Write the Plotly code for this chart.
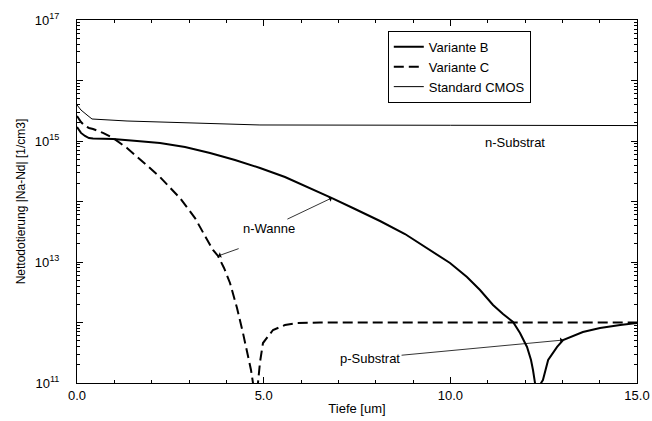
import plotly.graph_objects as go

# Variante B (thick solid)
b_x = [0.0, 0.107, 0.214, 0.321, 0.429, 0.964, 1.607, 2.223, 2.893, 3.563, 4.232, 4.902, 5.571,
       6.241, 6.830, 7.446, 8.116, 8.786, 9.455, 9.991, 10.446, 10.795, 11.143, 11.411, 11.679,
       11.866, 12.054, 12.161, 12.214, 12.268, 12.36, 12.43, 12.48, 12.62, 12.86, 13.02, 13.55,
       14.01, 14.55, 15.0]
b_y = [1.70e15, 1.36e15, 1.21e15, 1.12e15, 1.10e15, 1.08e15, 1.00e15, 9.27e14, 7.96e14, 6.34e14,
       4.85e14, 3.58e14, 2.54e14, 1.67e14, 1.14e14, 7.52e13, 4.76e13, 2.90e13, 1.58e13, 9.62e12,
       5.65e12, 3.44e12, 1.95e12, 1.38e12, 1.02e12, 6.70e11, 3.94e11, 2.40e11, 1.64e11, 1.0e11,
       1.0e9, 1.0e11, 1.12e11, 2.40e11, 3.94e11, 5.14e11, 6.96e11, 8.11e11, 9.09e11, 9.8e11]

# Variante C (dashed)
c_x = [0.0, 0.107, 0.214, 0.321, 0.429, 0.696, 0.964, 1.339, 1.768, 2.223, 2.759, 3.161, 3.429,
       3.643, 3.777, 3.938, 4.098, 4.286, 4.446, 4.580, 4.661, 4.714, 4.78, 4.848, 4.902, 4.982,
       5.116, 5.250, 5.571, 5.893, 6.509, 15.0]
c_y = [2.59e15, 2.06e15, 1.77e15, 1.64e15, 1.58e15, 1.36e15, 1.12e15, 7.66e14, 4.50e14, 2.54e14,
       1.14e14, 5.33e13, 2.69e13, 1.58e13, 1.26e13, 7.96e12, 4.50e12, 1.74e12, 6.70e11, 2.90e11,
       1.64e11, 1.0e11, 1.0e9, 1.0e11, 2.22e11, 4.58e11, 5.98e11, 7.52e11, 9.09e11, 9.8e11,
       1.0e12, 1.0e12]

# Standard CMOS (thin solid)
s_x = [0.0, 0.107, 0.268, 0.402, 1.34, 4.9, 10.0, 15.0]
s_y = [3.94e15, 3.25e15, 2.69e15, 2.31e15, 2.14e15, 1.84e15, 1.82e15, 1.80e15]

x_ticks = [0, 5, 10, 15]
x_tick_text = ["0.0", "5.0", "10.0", "15.0"]
y_ticks = [1e11, 1e12, 1e13, 1e14, 1e15, 1e16, 1e17]
y_tick_text = ["10<sup>11</sup>", "", "10<sup>13</sup>", "", "10<sup>15</sup>", "", "10<sup>17</sup>"]

FONT = "Liberation Sans, Arial, sans-serif"

fig = go.Figure()
fig.add_trace(go.Scatter(x=b_x, y=b_y, mode="lines", name="Variante B",
                         line=dict(color="black", width=2)))
fig.add_trace(go.Scatter(x=c_x, y=c_y, mode="lines", name="Variante C",
                         line=dict(color="black", width=2, dash="10px,5px")))
fig.add_trace(go.Scatter(x=s_x, y=s_y, mode="lines", name="Standard CMOS",
                         line=dict(color="black", width=1)))

minor_y = [m * 10 ** e for e in range(11, 17) for m in range(2, 10)]

fig.update_layout(
    width=652, height=421,
    margin=dict(l=77, r=15, t=20, b=38),
    paper_bgcolor="white", plot_bgcolor="white",
    font=dict(family=FONT, size=13, color="black"),
    showlegend=True,
    legend=dict(x=0.555, y=0.97, xanchor="left", yanchor="top",
                bordercolor="black", borderwidth=1, bgcolor="white",
                font=dict(size=13), tracegroupgap=0, itemwidth=30),
    xaxis=dict(range=[0, 15], showline=True, linecolor="black", linewidth=1, mirror="ticks",
               showgrid=False, zeroline=False, ticks="inside", ticklen=6, tickcolor="black",
               tickvals=x_ticks, ticktext=x_tick_text, automargin=False,
               minor=dict(ticks="inside", ticklen=3, tickcolor="black", tickvals=list(range(0, 16))),
               title=dict(text="Tiefe [um]", standoff=2, font=dict(size=13)),
               tickfont=dict(size=13)),
    yaxis=dict(type="log", range=[11, 17], showline=True, linecolor="black", linewidth=1, mirror="ticks",
               showgrid=False, zeroline=False, ticks="inside", ticklen=6, tickcolor="black",
               tickvals=y_ticks, ticktext=y_tick_text, automargin=False, ticklabelstandoff=14,
               minor=dict(ticks="inside", ticklen=3, tickcolor="black", tickvals=minor_y),
               title=dict(text="Nettodotierung |Na-Nd| [1/cm3]", standoff=6, font=dict(size=12)),
               tickfont=dict(size=13)),
)

ann_font = dict(family=FONT, size=13, color="black")
fig.add_annotation(x=11.73, y=14.98, text="n-Substrat", showarrow=False, font=ann_font)
arrow_common = dict(showarrow=True, arrowhead=1, arrowsize=1.2, arrowwidth=0.8,
                    arrowcolor="black", axref="x", ayref="y", standoff=0, font=ann_font)
# n-Wanne label with arrow to Variante B
fig.add_annotation(x=6.83, y=14.06, ax=5.13, ay=13.56, text="n-Wanne", **arrow_common)
# second arrow from n-Wanne to Variante C
fig.add_annotation(x=3.78, y=13.10, ax=4.37, ay=13.23, text="", startstandoff=0, **arrow_common)
# p-Substrat label with arrow to Variante B
fig.add_annotation(x=13.02, y=11.71, ax=7.85, ay=11.41, text="p-Substrat", **arrow_common)

fig.write_html("out.html")
